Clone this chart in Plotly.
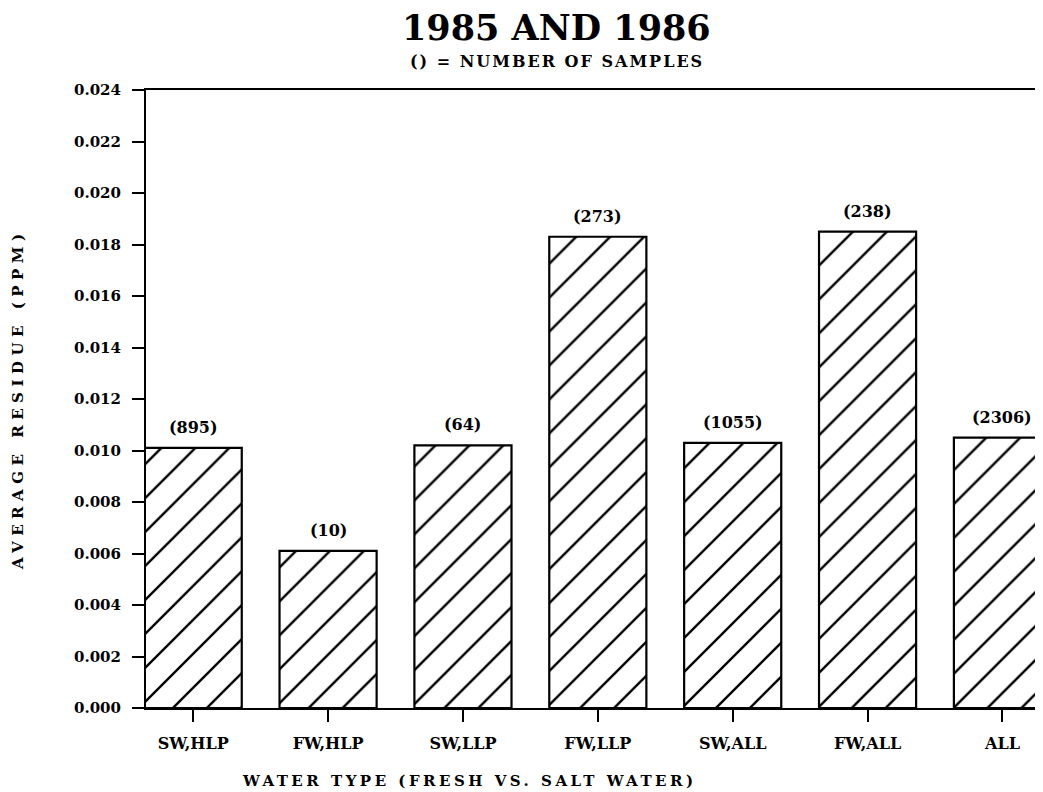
import plotly.graph_objects as go

categories = ["SW,HLP", "FW,HLP", "SW,LLP", "FW,LLP", "SW,ALL", "FW,ALL", "ALL"]
avg_residue = [0.0101, 0.0061, 0.0102, 0.0183, 0.0103, 0.0185, 0.0105]
sample_counts = ["(895)", "(10)", "(64)", "(273)", "(1055)", "(238)", "(2306)"]
y_ticks = [0.000, 0.002, 0.004, 0.006, 0.008, 0.010, 0.012, 0.014, 0.016, 0.018, 0.020, 0.022, 0.024]

title_text = "1985 AND 1986"
subtitle_text = "() = NUMBER OF SAMPLES"
x_title = "WATER TYPE (FRESH VS. SALT WATER)"
y_title = "AVERAGE RESIDUE (PPM)"

serif = "DejaVu Serif"
bold_font = lambda size: dict(family=serif, size=size, color="black", weight="bold")

fig = go.Figure()
fig.add_trace(go.Bar(
    x=categories,
    y=avg_residue,
    cliponaxis=False,
    marker=dict(
        color="white",
        line=dict(color="black", width=2.2),
        pattern=dict(shape="/", fgcolor="black", fgopacity=1, bgcolor="white",
                     size=24, solidity=0.1),
    ),
    width=0.72,
    showlegend=False,
))

annotations = []
for cat, val, lab in zip(categories, avg_residue, sample_counts):
    annotations.append(dict(
        x=cat, y=val, xref="x", yref="y", text=lab, showarrow=False,
        xanchor="center", yanchor="bottom", yshift=9, font=bold_font(16),
    ))

annotations += [
    dict(text=title_text, xref="paper", yref="paper", x=0.454, y=1, xanchor="center",
         yanchor="middle", yshift=63, showarrow=False,
         font=dict(family=serif, size=35, color="black", weight="bold")),
    dict(text="<span style='letter-spacing:2px'>" + subtitle_text + "</span>",
         xref="paper", yref="paper", x=0.454, y=1, xanchor="center",
         yanchor="middle", yshift=29, showarrow=False, font=bold_font(16)),
    dict(text="<span style='letter-spacing:3.5px'>" + x_title + "</span>",
         xref="paper", yref="paper", x=0.358, y=0, xanchor="center",
         yanchor="middle", yshift=-73, showarrow=False, font=bold_font(15)),
    dict(text="<span style='letter-spacing:5.5px'>" + y_title + "</span>",
         xref="paper", yref="paper", x=0, y=0.5, xanchor="center",
         yanchor="middle", xshift=-128, textangle=-90, showarrow=False, font=bold_font(15)),
]

fig.update_layout(
    width=1043,
    height=792,
    margin=dict(l=138, r=0, t=82, b=92),
    paper_bgcolor="white",
    plot_bgcolor="white",
    annotations=annotations,
    xaxis=dict(
        type="category",
        range=[-0.35, 6.36],
        showline=True, linecolor="black", linewidth=2, mirror=True,
        ticks="outside", ticklen=12, tickwidth=2, tickcolor="black",
        ticklabelstandoff=8,
        showgrid=False, zeroline=False,
        tickfont=bold_font(16),
    ),
    yaxis=dict(
        range=[0, 0.024],
        tickvals=y_ticks,
        tickformat=".3f",
        showline=True, linecolor="black", linewidth=2,
        ticks="outside", ticklen=12, tickwidth=2, tickcolor="black",
        ticklabelstandoff=8,
        showgrid=False, zeroline=False,
        tickfont=bold_font(15),
    ),
)

fig.write_html("out.html")
